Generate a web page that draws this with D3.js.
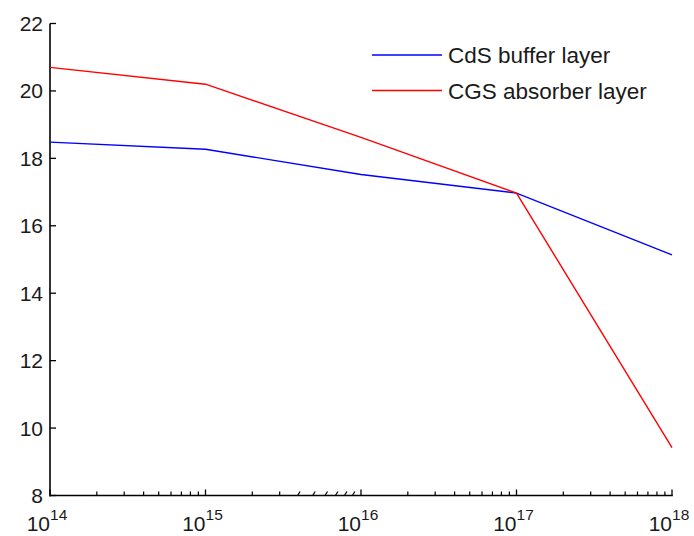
<!DOCTYPE html>
<html>
<head>
<meta charset="utf-8">
<script src="https://cdn.jsdelivr.net/npm/d3@7"></script>
<style>
  html, body { margin: 0; padding: 0; background: #fff; }
  svg { display: block; }
  text { font-family: "Liberation Sans", Arial, Helvetica, sans-serif; fill: #1a1a1a; }
</style>
</head>
<body>
<script>
// Doping concentration (cm^-3) on a log axis, efficiency (%) on the y axis
const concentration = [1e14, 1e15, 1e16, 1e17, 1e18];
const cdsBuffer = [18.48, 18.27, 17.52, 16.97, 15.14];
const cgsAbsorber = [20.70, 20.20, 18.62, 16.97, 9.42];
const seriesNames = ["CdS buffer layer", "CGS absorber layer"];
const seriesColors = ["#0000ff", "#ff0000"];
const yTicks = [8, 10, 12, 14, 16, 18, 20, 22];
const xDecades = [14, 15, 16, 17, 18];

const W = 694, H = 536;
const margin = { left: 50, right: 22, top: 23.5, bottom: 40.5 };

const svg = d3.select("body").append("svg")
  .attr("width", W).attr("height", H);

const x = d3.scaleLog().domain([1e14, 1e18]).range([margin.left, W - margin.right]);
const y = d3.scaleLinear().domain([8, 22]).range([H - margin.bottom, margin.top]);

const x0 = x.range()[0], x1 = x.range()[1];
const yb = y(8);

// Axis lines (left and bottom only)
svg.append("line").attr("x1", x0).attr("x2", x0).attr("y1", y(22)).attr("y2", yb + 1)
  .attr("stroke", "#000").attr("stroke-width", 1.6);
svg.append("line").attr("x1", x0).attr("x2", x1 + 0.8).attr("y1", yb).attr("y2", yb)
  .attr("stroke", "#000").attr("stroke-width", 1.6);

// Y ticks pointing inward
const gy = svg.append("g");
yTicks.forEach(v => {
  gy.append("line").attr("x1", x0).attr("x2", x0 + 6).attr("y1", y(v)).attr("y2", y(v))
    .attr("stroke", "#000").attr("stroke-width", 1.3);
  gy.append("text").attr("x", x0 - 7).attr("y", y(v)).attr("dy", "0.36em")
    .attr("text-anchor", "end").attr("font-size", 21).text(v);
});

// X ticks: decades (major) and 2..9 (minor), pointing inward
const gx = svg.append("g");
xDecades.forEach((e, i) => {
  const v = Math.pow(10, e);
  const px = x(v);
  gx.append("line").attr("x1", px).attr("x2", px).attr("y1", yb).attr("y2", yb - 6)
    .attr("stroke", "#000").attr("stroke-width", 1.3);
  const t = gx.append("text").attr("x", px - 3).attr("y", yb + 35)
    .attr("text-anchor", "middle").attr("font-size", 21);
  t.append("tspan").text("10");
  t.append("tspan").attr("font-size", 15.5).attr("dy", -11).text(e);
  if (i < xDecades.length - 1) {
    for (let m = 2; m <= 9; m++) {
      const mx = x(m * v);
      const slanted = e === 15 && m >= 4;
      gx.append("line")
        .attr("x1", slanted ? mx - 1.5 : mx).attr("x2", slanted ? mx + 1 : mx)
        .attr("y1", yb).attr("y2", yb - 4)
        .attr("stroke", "#000").attr("stroke-width", 1.2);
    }
  }
});

// Data lines
const line = d3.line().x((d, i) => x(concentration[i])).y(d => y(d));
[cdsBuffer, cgsAbsorber].forEach((vals, k) => {
  svg.append("path").datum(vals).attr("d", line)
    .attr("fill", "none").attr("stroke", seriesColors[k]).attr("stroke-width", 1.4);
});

// Legend
const legend = svg.append("g");
seriesNames.forEach((name, k) => {
  const ly = 55 + k * 35.5;
  legend.append("line").attr("x1", 372).attr("x2", 442).attr("y1", ly).attr("y2", ly)
    .attr("stroke", seriesColors[k]).attr("stroke-width", 1.4);
  legend.append("text").attr("x", 448).attr("y", ly).attr("dy", "0.36em")
    .attr("font-size", 22.5).text(name);
});
</script>
</body>
</html>
